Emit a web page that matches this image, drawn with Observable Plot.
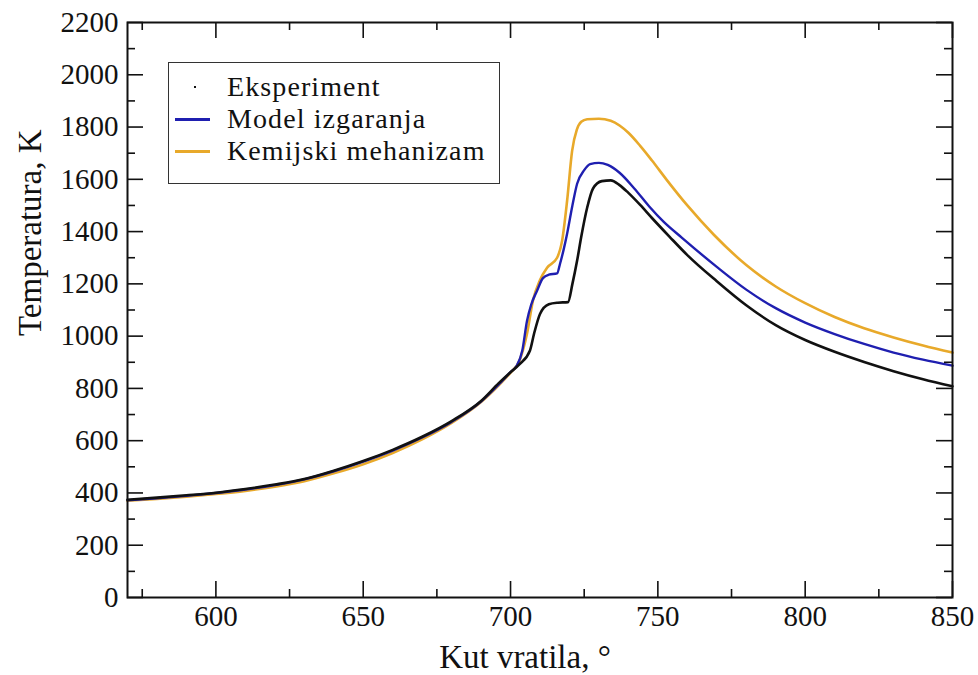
<!DOCTYPE html>
<html>
<head>
<meta charset="utf-8">
<script src="https://cdn.jsdelivr.net/npm/d3@7"></script>
<script src="https://cdn.jsdelivr.net/npm/@observablehq/plot@0.6"></script>
<style>
  html, body { margin: 0; padding: 0; background: #fff; }
  #wrap { position: relative; width: 978px; height: 675px; font-family: "Liberation Serif", "Times New Roman", serif; }
  #legend { position: absolute; left: 168px; top: 62px; width: 332px; height: 122px; border: 1.5px solid #333; background: #fff; box-sizing: border-box; }
  .row { position: absolute; left: 0; height: 32px; line-height: 32px; display: flex; align-items: center; font-size: 28px; color: #111; white-space: nowrap; }
  .sym { width: 58px; height: 32px; position: relative; }
  .sym .ln { position: absolute; left: 6px; top: 15px; width: 35px; height: 2.5px; }
  .sym .dt { position: absolute; left: 25px; top: 15px; width: 2px; height: 2px; background: #111; }
  .row span { letter-spacing: 1.1px; }
</style>
</head>
<body>
<div id="wrap"></div>
<script>
// ---- data ----
const xMajor = [600, 650, 700, 750, 800, 850];
const xMinor = [575, 625, 675, 725, 775, 825];
const yMajor = [0, 200, 400, 600, 800, 1000, 1200, 1400, 1600, 1800, 2000, 2200];
const yMinor = [100, 300, 500, 700, 900, 1100, 1300, 1500, 1700, 1900, 2100];

const seriesNames = ["Eksperiment", "Model izgaranja", "Kemijski mehanizam"];
const seriesColors = ["#111111", "#1f1fb0", "#e8a92a"];

const expX = [570,580,590,600,610,620,630,640,650,660,670,680,690,696,700,703,706.6,708,710,713,716,719.5,721,722.6,724,726,728,731,734,737,740,744,748,754,760,770,780,790,800,810,820,830,840,850];
const expY = [374,382,391,401,415,432,453,485,522,565,615,675,752,820,862,892,945,1010,1085,1122,1128,1130,1200,1289,1380,1491,1565,1593,1596,1578,1548,1502,1452,1380,1310,1210,1118,1042,985,940,901,866,835,808];

const modX = [570,580,590,600,610,620,630,640,650,660,670,680,690,696,700,702,704,705.6,707,709,711,713,715.8,716.8,718,719.2,721,722.6,725,727,730,733,737,742,747,752,758,770,780,790,800,810,820,830,840,850];
const modY = [372,380,389,400,413,430,452,483,520,562,612,672,750,815,862,885,945,1059,1120,1174,1222,1235,1240,1277,1330,1392,1500,1583,1635,1658,1663,1655,1625,1565,1497,1437,1378,1265,1178,1107,1052,1008,970,937,910,887];

const kemX = [570,580,590,600,610,620,630,640,650,660,670,680,690,696,700,703,705.6,707.6,710,712.4,715.8,717.5,719.2,720.9,722.5,724,726,730,734,737,740,744,748,753,760,769,780,790,800,810,820,830,840,850];
const kemY = [370,377,386,396,408,424,445,475,510,553,605,668,748,812,860,905,1010,1136,1215,1262,1300,1365,1518,1709,1790,1820,1830,1832,1824,1806,1778,1728,1672,1598,1500,1388,1272,1190,1126,1073,1030,995,964,937];

const toRows = (xs, ys, s) => xs.map((x, i) => ({x, y: ys[i], s}));
const expData = toRows(expX, expY, seriesNames[0]);
const modData = toRows(modX, modY, seriesNames[1]);
const kemData = toRows(kemX, kemY, seriesNames[2]);

const W = 978, H = 675;
const mL = 127, mR = 26, mT = 22, mB = 78;
const innerW = W - mL - mR, innerH = H - mT - mB;
const majorLen = 16, minorLen = 8;

const chart = Plot.plot({
  width: W, height: H,
  marginLeft: mL, marginRight: mR, marginTop: mT, marginBottom: mB,
  style: {fontFamily: "Liberation Serif, Times New Roman, serif", fontSize: "28px", background: "#fff", color: "#111"},
  x: {domain: [570, 850]},
  y: {domain: [0, 2200]},
  marks: [
    // lines
    Plot.line(kemData, {x: "x", y: "y", stroke: seriesColors[2], strokeWidth: 2.6, curve: "monotone-x"}),
    Plot.line(modData, {x: "x", y: "y", stroke: seriesColors[1], strokeWidth: 2.4, curve: "monotone-x"}),
    Plot.line(expData, {x: "x", y: "y", stroke: seriesColors[0], strokeWidth: 2.6, curve: "monotone-x"}),
    // inward ticks on all four sides
    Plot.tickX(xMajor, {x: d => d, insetTop: innerH - majorLen, stroke: "#111", strokeWidth: 1.6}),
    Plot.tickX(xMajor, {x: d => d, insetBottom: innerH - majorLen, stroke: "#111", strokeWidth: 1.6}),
    Plot.tickX(xMinor, {x: d => d, insetTop: innerH - minorLen, stroke: "#111", strokeWidth: 1.6}),
    Plot.tickX(xMinor, {x: d => d, insetBottom: innerH - minorLen, stroke: "#111", strokeWidth: 1.6}),
    Plot.tickY(yMajor, {y: d => d, insetRight: innerW - majorLen, stroke: "#111", strokeWidth: 1.6}),
    Plot.tickY(yMajor, {y: d => d, insetLeft: innerW - majorLen, stroke: "#111", strokeWidth: 1.6}),
    Plot.tickY(yMinor, {y: d => d, insetRight: innerW - minorLen, stroke: "#111", strokeWidth: 1.6}),
    Plot.tickY(yMinor, {y: d => d, insetLeft: innerW - minorLen, stroke: "#111", strokeWidth: 1.6}),
    Plot.frame({stroke: "#111", strokeWidth: 2}),
    // tick labels
    Plot.axisX({ticks: xMajor, tickSize: 0, tickPadding: 8, tickFormat: d => String(d), label: null, fontSize: 29}),
    Plot.axisY({ticks: yMajor, tickSize: 0, tickPadding: 9, tickFormat: d => String(d), label: null, fontSize: 29}),
    // axis titles
    Plot.text(["Kut vratila, °"], {frameAnchor: "bottom", lineAnchor: "top", dy: 47, dx: -15, fontSize: 33, fill: "#111"}),
    Plot.text(["Temperatura, K"], {frameAnchor: "left", rotate: -90, dx: -97, dy: 26, fontSize: 33, fill: "#111"})
  ]
});

const wrap = document.getElementById("wrap");
wrap.appendChild(chart);

// legend (HTML overlay)
const legend = document.createElement("div");
legend.id = "legend";
const rowTops = [8, 40, 72];
seriesNames.forEach((name, i) => {
  const row = document.createElement("div");
  row.className = "row";
  row.style.top = rowTops[i] + "px";
  const sym = document.createElement("div");
  sym.className = "sym";
  const mark = document.createElement("div");
  if (i === 0) { mark.className = "dt"; }
  else { mark.className = "ln"; mark.style.background = seriesColors[i]; }
  sym.appendChild(mark);
  const label = document.createElement("span");
  label.textContent = name;
  row.appendChild(sym);
  row.appendChild(label);
  legend.appendChild(row);
});
wrap.appendChild(legend);
</script>
</body>
</html>
